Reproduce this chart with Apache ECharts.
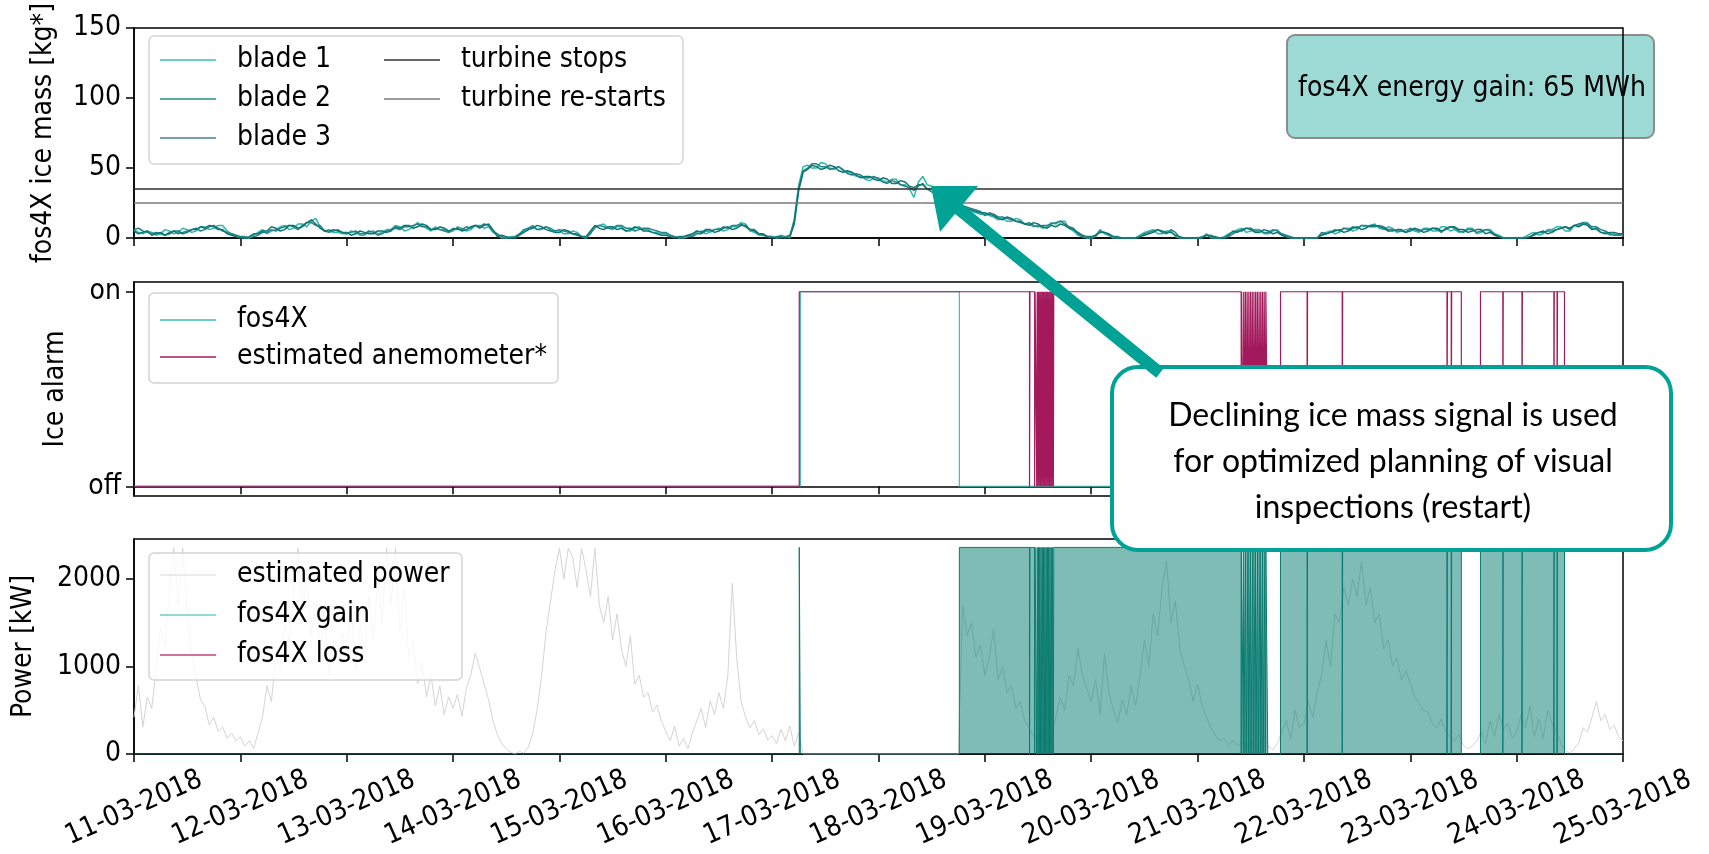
<!DOCTYPE html>
<html><head><meta charset="utf-8">
<script src="https://cdn.jsdelivr.net/npm/echarts@6/dist/echarts.min.js"></script>
<style>html,body{margin:0;padding:0;background:#fff}#c{width:1709px;height:854px}</style>
</head><body><div id="c"></div>
<script>
// ---------- DATA ----------
const tickLabels = ['11-03-2018','12-03-2018','13-03-2018','14-03-2018','15-03-2018','16-03-2018','17-03-2018',
  '18-03-2018','19-03-2018','20-03-2018','21-03-2018','22-03-2018','23-03-2018','24-03-2018','25-03-2018'];

// ice mass [kg*], one value per hour from 11-03-2018 00:00
const iceStepHours = 1;
const blade1 = [
  6,4,3,5,4,2,3,6,5,3,4,7,6,4,5,8,8,6,7,9,9,5,3,2,
  1,0,0,2,4,6,3,5,6,8,9,6,7,10,10,8,12,14,8,5,6,4,4,3,
  3,5,4,2,2,4,5,3,4,6,6,9,8,5,6,8,11,9,7,5,8,6,6,4,
  5,8,7,5,6,9,9,7,8,4,2,0,0,1,1,3,5,7,9,6,6,8,7,5,
  5,3,3,5,4,1,0,4,7,9,10,7,6,8,8,5,5,7,8,6,6,4,4,3,
  3,2,1,0,0,1,2,4,5,3,4,6,7,5,6,8,8,11,10,5,4,2,2,1,
  1,0,2,1,0,14,38,51,52,50,50,54,53,50,49,51,48,47,46,44,44,42,41,43,
  43,41,40,42,42,38,38,35,29,40,44,38,37,35,31,29,28,26,24,22,20,19,18,17,
  17,16,15,13,14,12,12,14,13,10,10,8,9,7,8,11,10,12,12,7,5,2,1,0,
  0,2,6,3,2,0,0,0,0,0,0,2,4,5,6,3,3,5,5,1,0,0,0,0,
  0,0,3,0,0,0,1,3,4,6,7,4,5,6,6,3,3,5,6,2,1,0,0,0,
  0,0,0,0,3,4,5,3,4,7,7,5,6,9,8,9,10,7,6,8,7,4,5,6,
  6,5,4,7,7,5,5,8,8,5,6,4,5,7,7,3,4,6,6,3,2,0,0,0,
  0,0,1,3,4,2,3,6,6,8,8,5,5,9,9,11,11,7,6,4,4,2,3,2,
  2];
const blade2 = [
  5,3,4,5,2,3,4,2,3,5,5,3,4,6,6,8,7,9,8,6,6,3,2,1,
  0,0,1,3,3,5,5,8,7,5,6,9,9,7,8,11,13,10,7,5,5,6,5,4,
  4,2,3,5,4,3,3,5,5,4,5,8,7,9,9,7,8,10,9,6,6,8,7,5,
  6,7,5,6,8,9,7,9,10,6,1,2,1,0,0,2,4,6,7,9,8,6,5,4,
  4,6,5,3,2,1,1,5,9,7,6,8,8,6,7,5,6,8,7,5,5,4,3,2,
  2,1,0,1,1,2,3,5,4,6,6,4,5,7,8,6,7,9,9,6,5,3,3,1,
  0,1,1,0,1,10,34,47,49,52,51,49,50,52,51,48,47,48,47,45,43,44,44,42,
  41,43,42,39,39,41,40,37,36,38,38,35,35,33,33,30,27,25,23,22,21,20,19,18,
  18,17,16,14,13,15,14,12,11,10,9,11,10,8,7,9,8,10,9,7,6,4,2,1,
  1,2,4,4,3,1,0,0,0,0,0,1,2,3,4,6,5,4,4,2,1,0,0,0,
  0,0,2,1,1,0,0,2,5,4,6,7,6,4,4,6,5,3,4,2,1,0,0,0,
  0,0,0,0,2,3,4,5,6,4,5,7,8,6,7,9,9,8,7,5,5,6,6,4,
  5,7,6,4,5,7,7,5,6,8,8,6,6,4,5,6,6,3,4,2,1,0,0,0,
  0,0,0,1,3,4,5,3,4,6,7,8,7,9,8,10,9,6,7,4,3,4,4,3,
  3];
const blade3 = [
  6,7,5,4,3,4,3,2,4,5,3,4,5,6,7,5,6,8,9,7,5,4,3,2,
  1,1,0,1,2,4,4,6,5,7,8,9,8,6,9,11,11,9,9,5,4,5,6,4,
  3,4,5,3,3,5,4,2,3,5,6,7,6,8,8,9,10,8,8,6,7,6,5,4,
  7,6,6,8,7,9,8,10,9,5,3,1,0,0,1,3,6,7,8,6,7,8,6,5,
  6,5,4,3,3,1,0,3,8,9,8,7,7,9,9,7,7,5,6,7,7,6,5,4,
  4,2,1,0,1,2,1,3,3,5,5,6,6,8,7,9,9,10,8,6,6,3,2,1,
  1,0,0,1,2,12,36,48,50,53,53,51,51,49,50,51,49,46,45,46,45,43,43,44,
  42,40,39,41,40,38,37,36,34,37,39,35,33,31,29,28,26,25,24,23,22,21,20,19,
  16,18,17,15,15,14,13,12,12,10,11,9,8,9,9,10,11,12,10,8,7,3,1,0,
  0,1,5,4,2,1,1,0,0,0,0,1,3,4,5,6,4,3,6,4,0,0,0,0,
  0,1,2,2,0,0,0,1,3,5,5,7,7,5,5,4,4,6,5,3,2,1,0,0,
  0,0,0,0,4,3,4,6,5,7,6,8,7,9,9,8,8,9,8,6,6,5,5,4,
  7,6,5,6,6,7,6,4,7,8,7,5,4,6,6,4,5,6,5,3,1,0,0,0,
  0,0,0,1,2,4,4,5,5,6,7,8,6,9,10,11,10,8,8,6,5,3,2,2,
  3];
const turbineStopsLevel = 35;
const turbineRestartsLevel = 25;

// ice alarm change points: [day since 11-03-2018, state (1 = on)]
const fos4XAlarm = [[0,0],[6.265,1],[7.76,0],[14,0]];
const anemometerAlarm = [
  [0,0],[6.255,1],
  [8.420,0],[8.424,1],[8.468,0],[8.472,1],[8.488,0],[8.492,1],[8.500,0],[8.504,1],[8.512,0],[8.516,1],
  [8.524,0],[8.528,1],[8.536,0],[8.540,1],[8.548,0],[8.552,1],[8.560,0],[8.564,1],[8.572,0],[8.576,1],
  [8.584,0],[8.588,1],[8.596,0],[8.600,1],[8.608,0],[8.612,1],[8.620,0],[8.624,1],[8.632,0],[8.636,1],
  [8.644,0],[8.648,1],
  [10.410,0],[10.414,1],[10.430,0],[10.434,1],[10.446,0],[10.450,1],[10.462,0],[10.466,1],[10.478,0],
  [10.482,1],[10.494,0],[10.498,1],[10.510,0],[10.514,1],[10.526,0],[10.530,1],[10.542,0],[10.546,1],
  [10.558,0],[10.562,1],[10.574,0],[10.578,1],[10.590,0],[10.594,1],[10.606,0],[10.610,1],[10.622,0],
  [10.626,1],[10.638,0],[10.642,1],[10.660,0],
  [10.780,1],[11.030,0],[11.034,1],[11.360,0],[11.364,1],[12.345,0],[12.349,1],[12.385,0],[12.389,1],
  [12.480,0],[12.660,1],[12.870,0],[12.874,1],[13.050,0],[13.054,1],[13.350,0],[13.354,1],[13.380,0],
  [13.384,1],[13.450,0],[14,0]];

// estimated power [kW], one value per hour from 11-03-2018 00:00
const powerStepHours = 1;
const estimatedPower = [
  420,780,310,650,520,980,1450,1250,1900,2350,1700,2350,1600,1150,880,620,540,330,420,260,310,180,240,150,
  200,90,150,60,240,420,780,600,1100,950,1500,1300,1800,2350,1600,2100,1350,1750,1200,1550,900,1300,1050,1400,
  1200,1650,950,1450,1100,1800,1300,2000,1500,2350,1700,2350,1400,1900,1100,1300,800,1050,650,900,550,780,450,650,
  520,680,430,750,900,1150,980,800,620,380,220,120,60,20,0,30,10,80,240,520,900,1400,1750,2100,
  2350,2000,2350,2250,1900,2350,2100,1800,2350,1700,1500,1800,1300,1600,1200,1000,1350,800,900,650,700,480,560,380,
  260,150,320,90,180,60,240,380,520,300,610,450,700,520,900,1950,1100,600,420,300,380,220,290,160,
  210,120,280,150,320,90,240,0,0,0,0,0,0,0,0,0,0,0,0,0,0,0,0,0,
  0,0,0,0,0,0,0,0,0,0,0,0,0,0,0,0,0,0,0,1700,1350,1500,1100,1250,
  900,1100,1430,850,1000,700,780,520,600,380,300,200,150,250,120,180,420,650,500,900,780,1210,900,750,
  600,850,450,1150,700,500,350,620,450,780,550,900,1300,1000,1600,1350,1900,2200,1500,1750,1200,1000,850,600,
  800,550,420,300,220,150,180,100,160,90,130,80,150,60,120,200,80,50,120,250,380,180,500,300,
  350,600,420,700,900,1300,1000,1600,1500,1900,1700,2000,1800,2200,1700,1900,1500,1600,1200,1300,1000,1100,850,950,
  800,650,580,500,480,350,300,400,250,200,150,220,100,60,90,150,250,120,380,200,450,280,350,180,
  250,450,300,550,200,400,180,500,350,250,120,40,10,60,120,300,250,420,600,380,450,280,330,200,
  150];
const gainFillLevel = 2360;
const fos4XLoss = [];
const energyGainText = 'fos4X energy gain: 65 MWh';
const annotationText = 'Declining ice mass signal is used\nfor optimized planning of visual\ninspections (restart)';

// ---------- BUILD ----------
const FONT = "'DejaVu Sans Condensed','Liberation Sans Narrow',Roboto,sans-serif";
const FS = 28;
const toXY = (arr, stepH) => arr.map((v, i) => [i * stepH / 24, v]);
function stateAt(ch, t) { let s = 0; for (const [x, v] of ch) { if (x <= t) s = v; else break; } return s; }
const times = Array.from(new Set(fos4XAlarm.map(d => d[0]).concat(anemometerAlarm.map(d => d[0])))).sort((a, b) => a - b);
const gainData = times.map(t => [t, (stateAt(anemometerAlarm, t) === 1 && stateAt(fos4XAlarm, t) === 0) ? gainFillLevel : 0]);

const gridPos = [{top: 23, height: 215}, {top: 282, height: 214}, {top: 539, height: 215}];
const grids = gridPos.map(g => ({left: 134, right: 86, top: g.top, height: g.height, show: true,
  borderColor: '#000', borderWidth: 1.5, backgroundColor: 'transparent'}));
const axisLineStyle = {show: true, lineStyle: {color: '#000', width: 1.5}};
const xAxes = [0, 1, 2].map(i => ({
  type: 'value', gridIndex: i, min: 0, max: 14, interval: 1,
  axisLine: axisLineStyle, splitLine: {show: false},
  axisTick: {show: true, length: 8, lineStyle: {color: '#000', width: 1.5}},
  axisLabel: i === 2 ? {show: true, formatter: v => tickLabels[Math.round(v)], rotate: 24, align: 'center',
    verticalAlign: 'middle', margin: 54, fontSize: FS, fontFamily: FONT, color: '#000'} : {show: false}
}));
const yName = {fontSize: FS, fontFamily: FONT, color: '#000'};
const yLab = {fontSize: FS, fontFamily: FONT, color: '#000', margin: 13, formatter: v => String(v)};
const yTick = {show: true, length: 8, lineStyle: {color: '#000', width: 1.5}};
const yAxes = [
  {type: 'value', gridIndex: 0, min: 0, max: 150, interval: 50, name: 'fos4X ice mass [kg*]', nameLocation: 'middle',
   nameGap: 76, nameTextStyle: yName, axisLabel: yLab, axisTick: yTick, axisLine: axisLineStyle, splitLine: {show: false}},
  {type: 'value', gridIndex: 1, min: -0.05, max: 1.05, name: 'Ice alarm', nameLocation: 'middle', nameGap: 64,
   nameTextStyle: yName, axisLabel: Object.assign({}, yLab, {customValues: [0, 1], formatter: v => v >= 0.5 ? 'on' : 'off'}),
   axisTick: Object.assign({customValues: [0, 1]}, yTick), axisLine: axisLineStyle, splitLine: {show: false}},
  {type: 'value', gridIndex: 2, min: 0, max: 2456, name: 'Power [kW]', nameLocation: 'middle', nameGap: 96,
   nameTextStyle: yName, axisLabel: Object.assign({}, yLab, {customValues: [0, 1000, 2000]}),
   axisTick: Object.assign({customValues: [0, 1000, 2000]}, yTick), axisLine: axisLineStyle, splitLine: {show: false}}
];

const line = (name, data, xi, color, width, extra) => Object.assign({
  type: 'line', name, data, xAxisIndex: xi, yAxisIndex: xi, symbol: 'none', showSymbol: false,
  lineStyle: {color, width}, itemStyle: {color}, silent: true
}, extra || {});

const series = [
  line('blade 1', toXY(blade1, iceStepHours), 0, '#2db8ab', 1.5),
  line('blade 3', toXY(blade3, iceStepHours), 0, '#2a7f8c', 1.5),
  line('blade 2', toXY(blade2, iceStepHours), 0, '#0d776f', 1.5),
  line('turbine stops', [[0, turbineStopsLevel], [14, turbineStopsLevel]], 0, '#2e2e2e', 1.4),
  line('turbine re-starts', [[0, turbineRestartsLevel], [14, turbineRestartsLevel]], 0, '#7a7a7a', 1.4),
  line('fos4X', fos4XAlarm, 1, '#3dbdb5', 1.2, {step: 'end'}),
  line('estimated anemometer*', anemometerAlarm, 1, '#a3195b', 1.2, {step: 'end'}),
  line('estimated power', toXY(estimatedPower, powerStepHours), 2, '#d4d4d4', 1, {z: 1}),
  line('fos4X gain', gainData, 2, '#0b7b70', 1, {z: 3, step: 'end', areaStyle: {color: '#00796d', opacity: 0.5}}),
  line('fos4X loss', fos4XLoss, 2, '#c4457a', 1)
];

const ICON = 'path://M0,0H56V1.6H0Z';
const legBase = {orient: 'vertical', padding: 0, itemWidth: 56, itemHeight: 14, selectedMode: false, icon: ICON,
  textStyle: {fontSize: FS, fontFamily: FONT, color: '#000', lineHeight: 30, padding: [0, 0, 0, 16]}};
const legItem = (name, color) => ({name, icon: ICON, itemStyle: {color, borderWidth: 0}});
const legends = [
  Object.assign({}, legBase, {left: 160, top: 45, itemGap: 9, data: [
    legItem('blade 1', '#3cc0b4'), legItem('blade 2', '#2a8c84'), legItem('blade 3', '#4a8090')]}),
  Object.assign({}, legBase, {left: 384, top: 45, itemGap: 9, data: [
    legItem('turbine stops', '#333333'), legItem('turbine re-starts', '#7a7a7a')]}),
  Object.assign({}, legBase, {left: 160, top: 305, itemGap: 7, data: [
    legItem('fos4X', '#3dbdb5'), legItem('estimated anemometer*', '#a3195b')]}),
  Object.assign({}, legBase, {left: 160, top: 560, itemGap: 10, data: [
    legItem('estimated power', '#e4e4e4'), legItem('fos4X gain', '#6fcdc6'), legItem('fos4X loss', '#c4457a')]})
];

const frame = (x, y, w, h) => ({type: 'rect', z: 4, silent: true, shape: {x, y, width: w, height: h, r: 5},
  style: {fill: 'rgba(255,255,255,0.8)', stroke: '#d4d4d4', lineWidth: 1.5}});
const TEAL = '#00a295';
const graphic = [
  frame(149, 36, 534, 128),
  frame(149, 293, 409, 90),
  frame(149, 553, 313, 127),
  {type: 'rect', z: -1, silent: true, shape: {x: 1287, y: 35, width: 367, height: 103, r: 8},
   style: {fill: '#9dd9d5', stroke: '#8c8c8c', lineWidth: 2}},
  {type: 'text', z: -1, silent: true, x: 1472, y: 89, style: {text: energyGainText, fontSize: FS, fontFamily: FONT,
   fill: '#000', align: 'center', verticalAlign: 'middle'}},
  {type: 'rect', z: 19, silent: true, shape: {x: 1112, y: 367, width: 559, height: 183, r: 26},
   style: {fill: '#fff', stroke: TEAL, lineWidth: 4}},
  {type: 'line', z: 20, silent: true, shape: {x1: 1160, y1: 373, x2: 955, y2: 206}, style: {stroke: TEAL, lineWidth: 12}},
  {type: 'polygon', z: 20, silent: true, shape: {points: [[931, 186], [978, 186], [940, 232]]}, style: {fill: TEAL}},
  {type: 'text', z: 21, silent: true, x: 1393, y: 462, style: {text: annotationText, fontSize: 32, fontFamily: 'Lato',
   lineHeight: 46, fill: '#000', align: 'center', verticalAlign: 'middle'}}
];

const chart = echarts.init(document.getElementById('c'));
chart.setOption({
  animation: false, backgroundColor: '#fff',
  grid: grids, xAxis: xAxes, yAxis: yAxes, series, legend: legends, graphic
});
</script></body></html>
